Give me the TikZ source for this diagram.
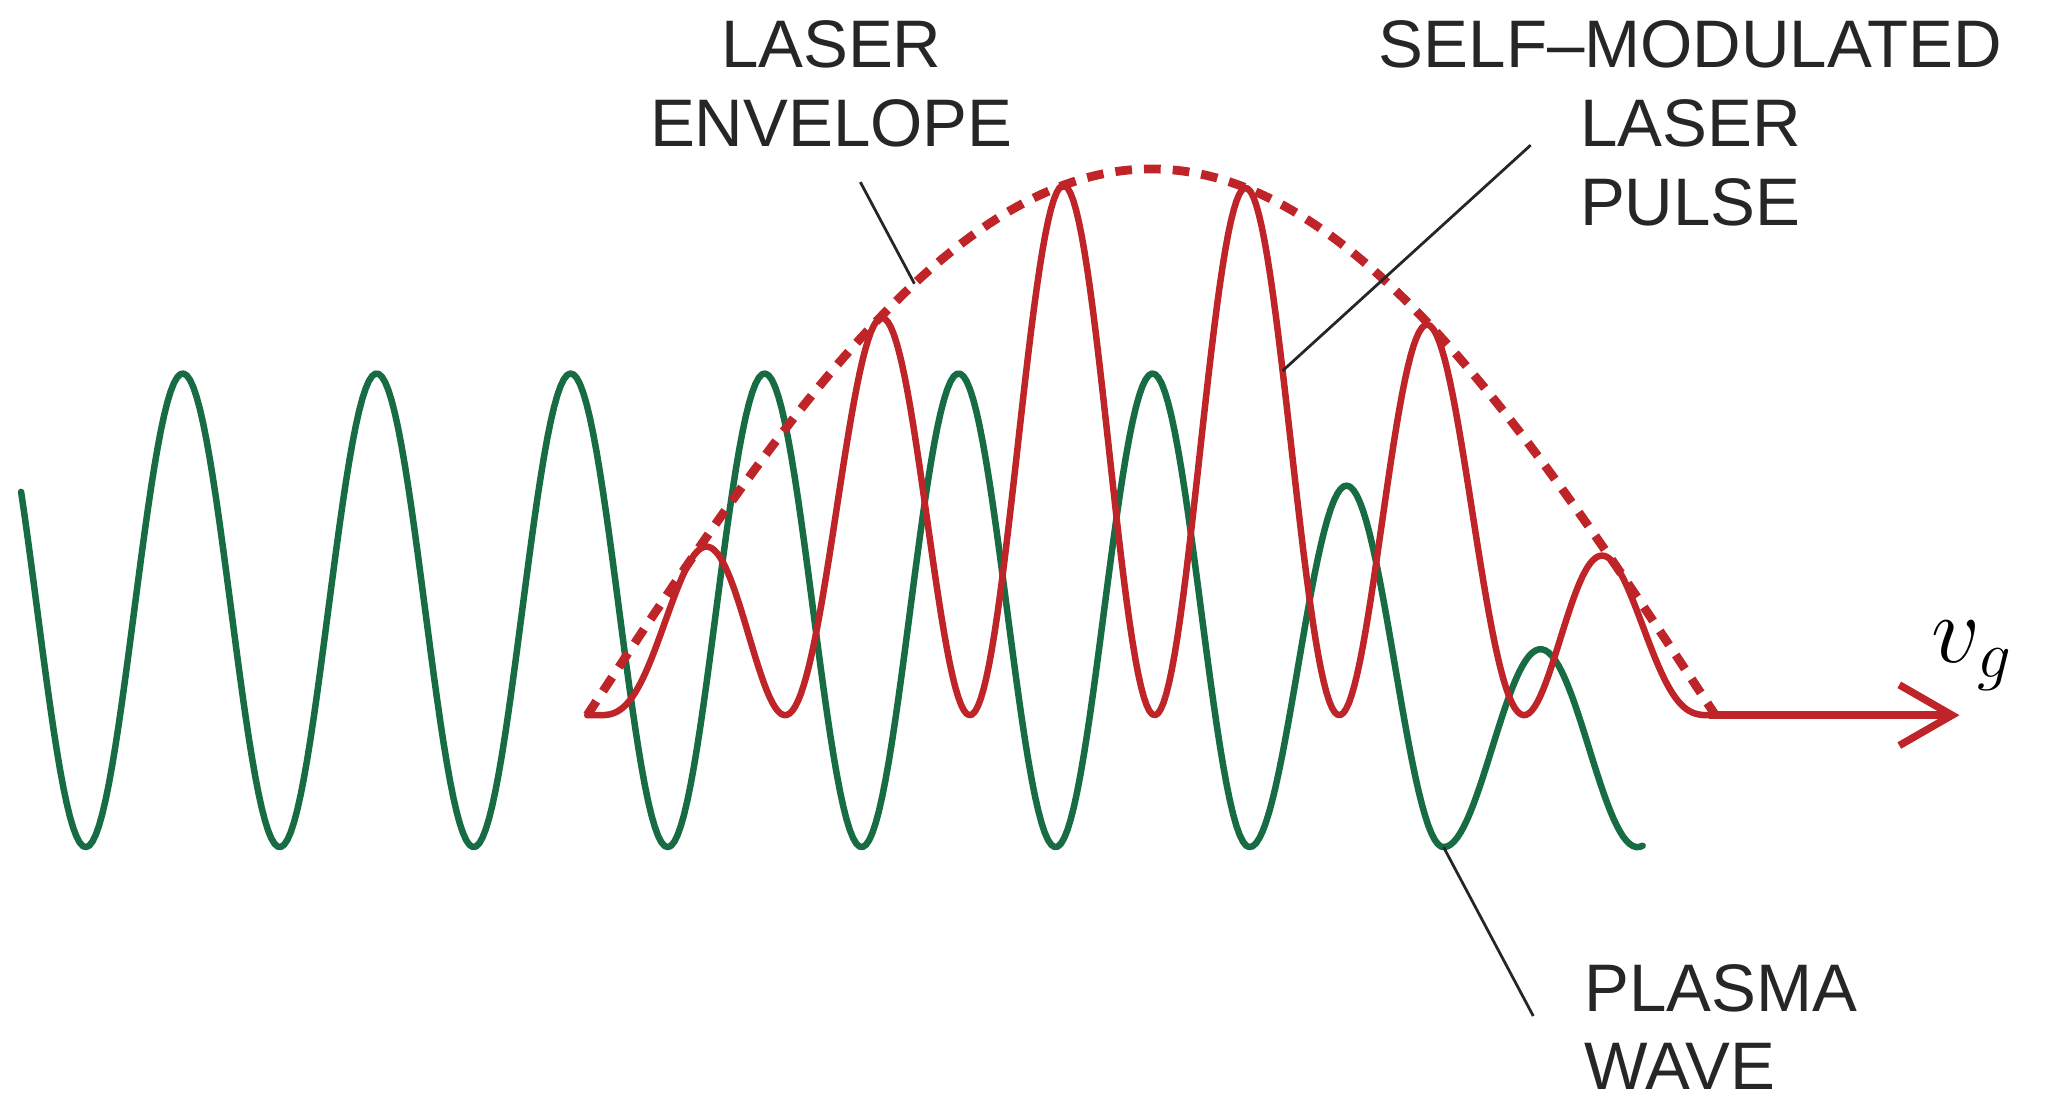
\documentclass[tikz,border=0pt]{standalone}
\usepackage{fontspec}
\setmainfont{Liberation Sans}
\usepackage{tikz}
\usetikzlibrary{arrows.meta, positioning, calc}
\definecolor{plasmagreen}{RGB}{24, 108, 68}
\definecolor{laserred}{RGB}{190, 36, 40}

\begin{document}
\begin{tikzpicture}[
  tag/.style={font=\fontsize{14.5}{17}\selectfont, text=black!85, inner sep=0pt},
  leader/.style={draw=black!85, line width=0.6pt},
  wave/.style={line width=1.4pt, line join=round, line cap=round}
]
\useasboundingbox (0,0) rectangle (15.68,8.36);

% plasma wave, damped towards the front
\draw[wave, plasmagreen] plot[domain=0.16:12.45, samples=500]
  (\x, {1.94 + (\x<9.47 ? 3.59 : (\x<10.94 ? 2.74 : 1.50))*(1-cos(360*(\x-0.65)/1.47))/2});

% laser envelope
\draw[laserred, line width=1.9pt, dash pattern=on 3.6pt off 2.6pt]
  plot[domain=4.45:13.0, samples=150] (\x, {2.94 + 4.14*sin(180*(\x-4.45)/8.55)});

% self-modulated pulse
\draw[wave, laserred] plot[domain=4.45:12.95, samples=400]
  (\x, {2.94 + 4.14*sin(180*(\x-4.45)/8.55)*(1+cos(360*(\x-5.25)/1.40))/2});
\coordinate (pulseend) at (12.95,2.94);
\coordinate (arrowtip) at (14.85,2.94);
\draw[laserred, line width=1.6pt, -{Straight Barb[length=4mm, width=4.6mm]}] (pulseend) -- (arrowtip);

\node[tag, align=center, anchor=north] (envlabel) at (6.30,8.21) {LASER\\ENVELOPE};
\node[tag, align=center, anchor=north] (pulselabel) at (12.81,8.21) {SELF--MODULATED\\LASER\\PULSE};
\node[tag, align=left, anchor=north west] (plasmalabel) at (12.00,1.06) {PLASMA\\WAVE};
\node[inner sep=0pt, font=\fontsize{20}{24}\selectfont] (vg) at (14.95,3.39) {$v_g$};

\coordinate (envpt) at (6.93,6.21);
\coordinate (pulsept) at (9.72,5.55);
\coordinate (plasmapt) at (10.94,1.94);
\draw[leader] ([shift={(0.22,-1.23)}]envlabel.north) -- (envpt);
\draw[leader] ([shift={(-1.21,-0.95)}]pulselabel.north) -- (pulsept);
\draw[leader] ([shift={(-0.38,-0.40)}]plasmalabel.north west) -- (plasmapt);

\end{tikzpicture}
\end{document}
